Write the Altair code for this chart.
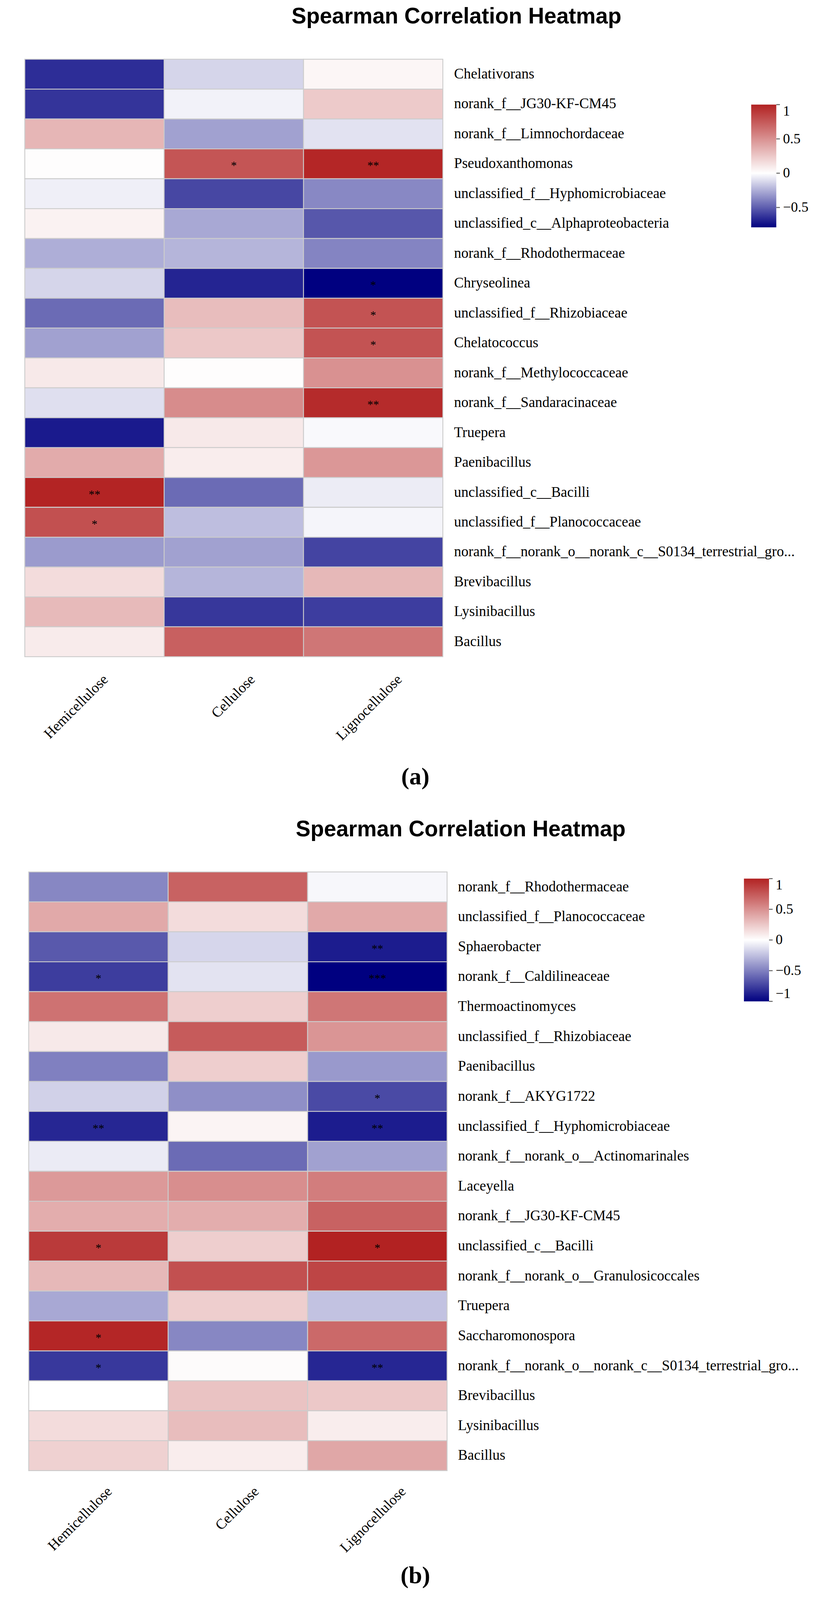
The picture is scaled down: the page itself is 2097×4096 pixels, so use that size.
import altair as alt
import pandas as pd

S = 0.774


def v(p):
    """reference pixel -> chart pixel"""
    return p * S - 8


cols = ["Hemicellulose", "Cellulose", "Lignocellulose"]
title_text = "Spearman Correlation Heatmap"

# ---------------- panel (a) ----------------
rows_a = [
    "Chelativorans", "norank_f__JG30-KF-CM45", "norank_f__Limnochordaceae",
    "Pseudoxanthomonas", "unclassified_f__Hyphomicrobiaceae",
    "unclassified_c__Alphaproteobacteria", "norank_f__Rhodothermaceae",
    "Chryseolinea", "unclassified_f__Rhizobiaceae", "Chelatococcus",
    "norank_f__Methylococcaceae", "norank_f__Sandaracinaceae", "Truepera",
    "Paenibacillus", "unclassified_c__Bacilli", "unclassified_f__Planococcaceae",
    "norank_f__norank_o__norank_c__S0134_terrestrial_gro...", "Brevibacillus",
    "Lysinibacillus", "Bacillus",
]
hemi_a = [-0.65, -0.63, 0.33, 0.01, -0.05, 0.06, -0.25, -0.13, -0.46, -0.29,
          0.10, -0.10, -0.71, 0.38, 0.99, 0.79, -0.31, 0.16, 0.31, 0.09]
cell_a = [-0.13, -0.04, -0.29, 0.77, -0.57, -0.27, -0.23, -0.68, 0.30, 0.25,
          0.01, 0.52, 0.10, 0.08, -0.46, -0.20, -0.29, -0.23, -0.62, 0.72]
ligno_a = [0.04, 0.24, -0.09, 0.98, -0.37, -0.52, -0.38, -0.79, 0.78, 0.78,
           0.50, 0.96, -0.02, 0.47, -0.06, -0.03, -0.58, 0.32, -0.60, 0.62]
sig_h_a = ["", "", "", "", "", "", "", "", "", "", "", "", "", "", "**", "*", "", "", "", ""]
sig_c_a = ["", "", "", "*", "", "", "", "", "", "", "", "", "", "", "", "", "", "", "", ""]
sig_l_a = ["", "", "", "**", "", "", "", "*", "*", "*", "", "**", "", "", "", "", "", "", "", ""]
legend_vals_a = [1, 0.5, 0, -0.5]

# ---------------- panel (b) ----------------
rows_b = [
    "norank_f__Rhodothermaceae", "unclassified_f__Planococcaceae", "Sphaerobacter",
    "norank_f__Caldilineaceae", "Thermoactinomyces", "unclassified_f__Rhizobiaceae",
    "Paenibacillus", "norank_f__AKYG1722", "unclassified_f__Hyphomicrobiaceae",
    "norank_f__norank_o__Actinomarinales", "Laceyella", "norank_f__JG30-KF-CM45",
    "unclassified_c__Bacilli", "norank_f__norank_o__Granulosicoccales", "Truepera",
    "Saccharomonospora", "norank_f__norank_o__norank_c__S0134_terrestrial_gro...",
    "Brevibacillus", "Lysinibacillus", "Bacillus",
]
hemi_b = [-0.47, 0.39, -0.65, -0.76, 0.64, 0.10, -0.50, -0.18, -0.85, -0.08,
          0.46, 0.37, 0.89, 0.32, -0.34, 0.98, -0.78, 0.00, 0.16, 0.21]
cell_b = [0.71, 0.16, -0.16, -0.11, 0.22, 0.74, 0.22, -0.44, 0.05, -0.58,
          0.51, 0.37, 0.22, 0.79, 0.22, -0.47, 0.02, 0.27, 0.30, 0.08]
ligno_b = [-0.03, 0.39, -0.89, -1.00, 0.62, 0.48, -0.40, -0.71, -0.89, -0.37,
           0.59, 0.71, 1.00, 0.84, -0.24, 0.68, -0.85, 0.25, 0.08, 0.40]
sig_h_b = ["", "", "", "*", "", "", "", "", "**", "", "", "", "*", "", "", "*", "*", "", "", ""]
sig_c_b = [""] * 20
sig_l_b = ["", "", "**", "***", "", "", "", "*", "**", "", "", "", "*", "", "", "", "**", "", "", ""]
legend_vals_b = [1, 0.5, 0, -0.5, -1]

SERIF = "Liberation Serif"
SANS = "Liberation Sans"
BAR_W = 83
BAR_H = 406


def band(domain, lo, hi):
    return alt.Scale(type="band", domain=domain, range=[v(lo), v(hi)],
                     paddingInner=0, paddingOuter=0)


def panel(rows, hemi, cell, ligno, sh, sc, sl, L):
    recs = []
    for i, r in enumerate(rows):
        for c, vals, sigs in zip(cols, (hemi, cell, ligno), (sh, sc, sl)):
            recs.append({"row": r, "col": c, "r": vals[i], "sig": sigs[i]})
    df = pd.DataFrame(recs)
    mn = min(min(hemi), min(cell), min(ligno))

    xs = alt.X("col:N", scale=band(cols, L["x0"], L["x1"]), axis=None)
    ys = alt.Y("row:N", scale=band(rows, L["y0"], L["y1"]), axis=None)

    heat = alt.Chart(df).mark_rect(stroke="#CCCCCC", strokeWidth=2.3).encode(
        x=xs, y=ys,
        color=alt.Color(
            "r:Q",
            scale=alt.Scale(domain=[mn, 0, 1], range=["#000080", "#FFFFFF", "#B22222"],
                            interpolate="rgb"),
            legend=alt.Legend(
                orient="none", legendX=v(L["lgx"]), legendY=v(L["lgy"]), title=None,
                direction="vertical", gradientLength=BAR_H * S, gradientThickness=BAR_W * S,
                gradientStrokeWidth=0, values=L["lvals"], format="~g",
                labelFont=SERIF, labelFontSize=36, labelColor="black",
                labelOffset=17, labelOverlap=False, labelBaseline="middle",
            ),
        ),
    )
    # small tick marks beside the colour bar, placed with a scale matching the bar
    ticks = alt.Chart(pd.DataFrame({"val": L["lvals"]})).mark_rule(
        color="#666666", strokeWidth=2.5
    ).encode(
        x=alt.value(v(L["lgx"] + BAR_W)), x2=alt.value(v(L["lgx"] + BAR_W + 12)),
        y=alt.Y("val:Q", scale=alt.Scale(domain=[mn, 1], range=[v(L["lgy"] + BAR_H), v(L["lgy"])]),
                axis=None),
    )
    stars = alt.Chart(df[df["sig"] != ""]).mark_text(
        font=SERIF, fontSize=30, color="black", baseline="middle", dy=5
    ).encode(x=xs, y=ys, text="sig:N")

    rowlab = alt.Chart(pd.DataFrame({"row": rows})).mark_text(
        align="left", baseline="middle", font=SERIF, fontSize=37, color="black"
    ).encode(x=alt.value(v(L["labx"])), y=ys, text="row:N")

    collab = alt.Chart(pd.DataFrame({"col": cols})).mark_text(
        angle=315, align="right", baseline="middle", font=SERIF, fontSize=37, color="black"
    ).encode(
        x=alt.X("col:N", scale=band(cols, L["cx0"], L["cx1"]), axis=None),
        y=alt.value(v(L["cy"])), text="col:N",
    )

    ttl = alt.Chart(pd.DataFrame({"t": [title_text]})).mark_text(
        font=SANS, fontWeight="bold", fontSize=56.5, align="center",
        baseline="alphabetic", color="black"
    ).encode(x=alt.value(v(L["tx"])), y=alt.value(v(L["ty"])), text="t:N")

    tag = alt.Chart(pd.DataFrame({"t": [L["tag"]]})).mark_text(
        font=SERIF, fontWeight="bold", fontSize=62, align="center",
        baseline="middle", color="black"
    ).encode(x=alt.value(v(L["tagx"])), y=alt.value(v(L["tagy"])), text="t:N")

    return [heat, ticks, stars, rowlab, collab, ttl, tag]


LA = dict(x0=82, x1=1465, y0=196, y1=2172, labx=1502, cx0=107, cx1=1565, cy=2240,
          tx=1510, ty=77, lgx=2485, lgy=346, lvals=legend_vals_a,
          tag="(a)", tagx=1374, tagy=2570)
LB = dict(x0=95, x1=1479, y0=2884, y1=4864, labx=1515, cx0=120, cx1=1578, cy=4926,
          tx=1524, ty=2766, lgx=2461, lgy=2906, lvals=legend_vals_b,
          tag="(b)", tagx=1374, tagy=5212)

layers = panel(rows_a, hemi_a, cell_a, ligno_a, sig_h_a, sig_c_a, sig_l_a, LA) + \
         panel(rows_b, hemi_b, cell_b, ligno_b, sig_h_b, sig_c_b, sig_l_b, LB)

chart = alt.layer(*layers).resolve_scale(
    x="independent", y="independent", color="independent"
).properties(
    width=2080, height=4070, padding=0,
    autosize=alt.AutoSizeParams(type="none"),
).configure_view(strokeWidth=0)

chart.save("out.html", embed_options={"renderer": "svg", "actions": False})
